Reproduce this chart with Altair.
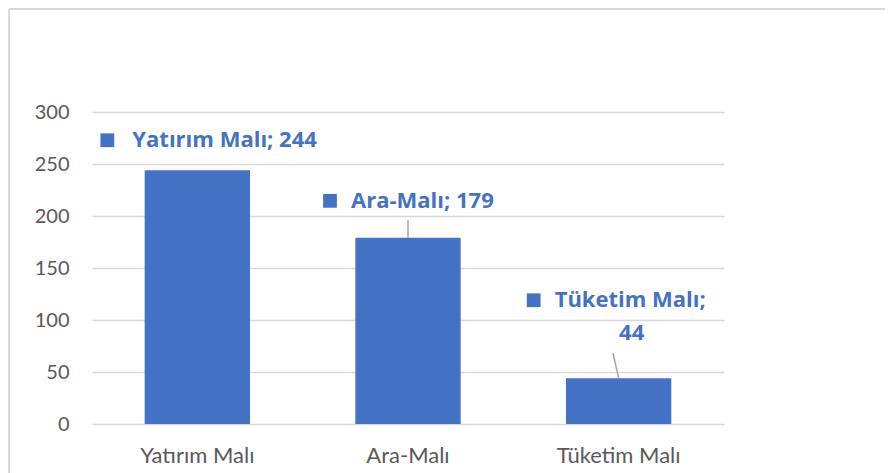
import altair as alt
import pandas as pd

categories = ["Yatırım Malı", "Ara-Malı", "Tüketim Malı"]
values = [244, 179, 44]
y_ticks = [0, 50, 100, 150, 200, 250, 300]

df = pd.DataFrame({"cat": categories, "val": values})
df["label"] = df["cat"] + "; " + df["val"].astype(str)
df["name"] = df["cat"] + ";"
df["num"] = df["val"].astype(str)

BLUE = "#4472C4"
FONT = "Lato"
BFONT = "Open Sans"
BSIZE = 22

xs = alt.X("cat:N", sort=categories,
           scale=alt.Scale(paddingInner=0.5, paddingOuter=0.25),
           axis=alt.Axis(title=None, labelAngle=0, domain=False, ticks=False,
                         labelPadding=31, labelFontSize=22, labelColor="#595959",
                         labelFont=FONT, labelBaseline="middle", grid=False))
ys = alt.Y("val:Q", scale=alt.Scale(domain=[0, 300]),
           axis=alt.Axis(title=None, values=y_ticks, domain=False, ticks=False,
                         labelPadding=23, labelFontSize=20, labelColor="#595959",
                         labelFont=FONT, gridColor="#d9d9d9", gridWidth=1.3))
xp = alt.X("cat:N", sort=categories)
yp = alt.Y("val:Q")

base = alt.Chart(df)
bars = base.mark_bar(color=BLUE).encode(x=xs, y=ys)

layers = [bars]

# annotation layout: (category, marker dx, text dx, dy)
single_ann = [("Yatırım Malı", -90, -65, -30), ("Ara-Malı", -78, -57, -37)]
for cat, mdx, tdx, dy in single_ann:
    sub = base.transform_filter(alt.datum.cat == cat)
    layers.append(sub.mark_square(color=BLUE, size=190, opacity=1, xOffset=mdx, yOffset=dy).encode(x=xp, y=yp))
    layers.append(sub.mark_text(color=BLUE, font=BFONT, fontWeight="bold", fontSize=BSIZE,
                                align="left", baseline="middle", dx=tdx, dy=dy).encode(x=xp, y=yp, text="label:N"))

sub = base.transform_filter(alt.datum.cat == "Tüketim Malı")
layers.append(sub.mark_square(color=BLUE, size=190, opacity=1, xOffset=-85, yOffset=-78).encode(x=xp, y=yp))
layers.append(sub.mark_text(color=BLUE, font=BFONT, fontWeight="bold", fontSize=BSIZE,
                            align="left", baseline="middle", dx=-64, dy=-78).encode(x=xp, y=yp, text="name:N"))
layers.append(sub.mark_text(color=BLUE, font=BFONT, fontWeight="bold", fontSize=BSIZE,
                            align="center", baseline="middle", dx=13, dy=-45).encode(x=xp, y=yp, text="num:N"))

# leader lines
ara = base.transform_filter(alt.datum.cat == "Ara-Malı")
layers.append(ara.mark_rule(color="#a6a6a6", strokeWidth=1.5).encode(x=xp, y=yp, y2=alt.value(108)))
layers.append(sub.mark_rule(color="#a6a6a6", strokeWidth=1.5).encode(x=xp, y=yp, x2=alt.value(521), y2=alt.value(241)))

# chart frame
layers.append(base.mark_rule(color="#d9d9d9", strokeWidth=2).encode(
    x=alt.value(-83), y=alt.value(-103), y2=alt.value(400)))
layers.append(base.mark_rule(color="#d9d9d9", strokeWidth=2).encode(
    x=alt.value(-83), x2=alt.value(800), y=alt.value(-103)))

chart = alt.layer(*layers).properties(
    width=632, height=312,
    background="white",
    autosize=alt.AutoSizeParams(type="none"),
    padding={"left": 84, "top": 104, "right": 161, "bottom": 49},
).configure_view(stroke=None)

chart.save("out.html", embed_options={"renderer": "svg", "actions": False})
